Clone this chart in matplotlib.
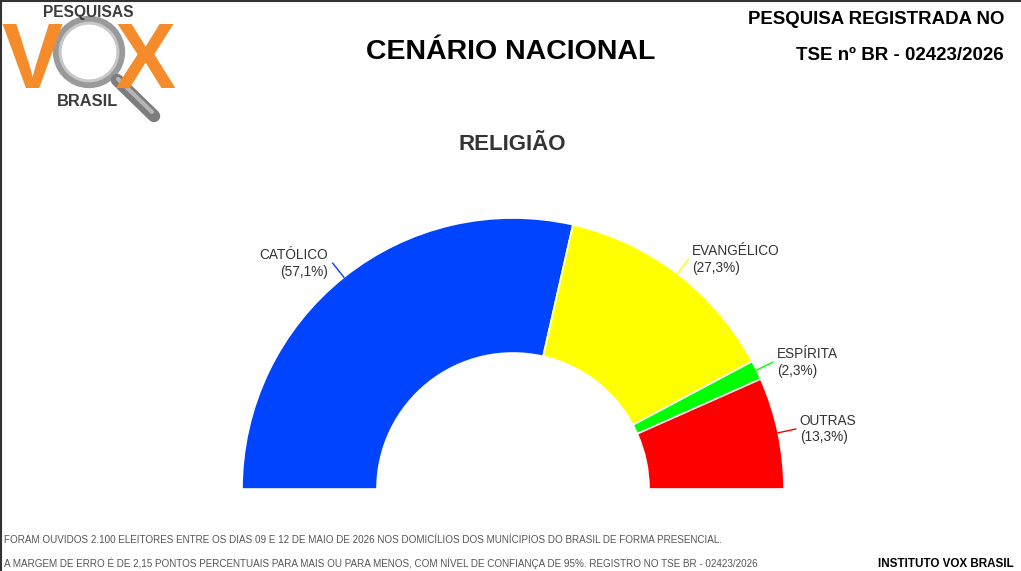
import matplotlib
matplotlib.use("Agg")
import numpy as np
import matplotlib.pyplot as plt
from matplotlib.patches import Circle

# === Dados ===
categorias = ["CATÓLICO", "EVANGÉLICO", "ESPÍRITA", "OUTRAS"]
valores = [57.1, 27.3, 2.3, 13.3]
cores = ["#0044FF", "#FFFF00", "#00FF00", "#FF0000"]

titulo = "CENÁRIO NACIONAL"
subtitulo = "RELIGIÃO"
registro = ["PESQUISA REGISTRADA NO", "TSE nº BR - 02423/2026"]
rodape = [
    "FORAM OUVIDOS 2.100 ELEITORES ENTRE OS DIAS 09 E 12 DE MAIO DE 2026 NOS DOMICÍLIOS DOS MUNÍCIPIOS DO BRASIL DE FORMA PRESENCIAL.",
    "A MARGEM DE ERRO É DE 2,15 PONTOS PERCENTUAIS PARA MAIS OU PARA MENOS, COM NÍVEL DE CONFIANÇA DE 95%. REGISTRO NO TSE BR - 02423/2026",
]

plt.rcParams['font.family'] = ['Liberation Sans', 'DejaVu Sans']

# === Figura em coordenadas de pixel ===
fig = plt.figure(figsize=(10.21, 5.71), dpi=100)
ax = fig.add_axes([0, 0, 1, 1])

cx, cy = 513, 489
raio = 271
largura = 135

wedges, _ = ax.pie(valores + [sum(valores)], startangle=180, counterclock=True,
                   center=(cx, cy), radius=raio, colors=cores + ['none'],
                   wedgeprops=dict(width=largura, edgecolor='white', linewidth=1.2))
wedges[-1].set_visible(False)

ax.set_xlim(0, 1021)
ax.set_ylim(571, 0)
ax.set_aspect('auto')
ax.axis('off')

# --- rótulos com conectores ---
for w, nome, v, cor in zip(wedges[:-1], categorias, valores, cores):
    ang = np.deg2rad((w.theta1 + w.theta2) / 2)
    c, s = np.cos(ang), np.sin(ang)
    x0, y0 = cx + raio * c, cy + raio * s
    x1, y1 = cx + (raio + 18) * c, cy + (raio + 18) * s
    ax.plot([x0, x1], [y0, y1], color=cor, lw=1)
    pct = f"({v:.1f}%)".replace('.', ',')
    if c >= 0:
        ax.text(x1 + 4, y1, f"{nome}\n{pct}", ha='left', va='center',
                fontsize=9.8, color='#333333', linespacing=1.25)
    else:
        ax.text(x1 - 5, y1, f"{nome}\n{pct}", ha='right', va='center',
                fontsize=9.8, color='#333333', linespacing=1.25)

# --- títulos ---
ax.text(511, 52, titulo, ha='center', va='center', fontsize=20.5,
        fontweight='bold', color='black')
ax.text(512, 145, subtitulo, ha='center', va='center', fontsize=16,
        fontweight='bold', color='#333333')
ax.text(1004, 20, registro[0], ha='right', va='center', fontsize=13.4,
        fontweight='bold', color='black')
ax.text(1004, 56, registro[1], ha='right', va='center', fontsize=13.5,
        fontweight='bold', color='black')

# --- rodapé ---
ax.text(4, 540, rodape[0], ha='left', va='center', fontsize=7.1, color='#555555')
ax.text(4, 563, rodape[1], ha='left', va='center', fontsize=7.1, color='#555555')
ax.text(1014, 564, "INSTITUTO VOX BRASIL", ha='right', va='center', fontsize=8.4,
        fontweight='bold', color='black')

# --- logo ---
laranja = '#F68B2C'
ax.text(32, 64, "V", ha='center', va='center', fontsize=66, fontweight='bold',
        color=laranja)
ax.text(145, 64, "X", ha='center', va='center', fontsize=66, fontweight='bold',
        color=laranja)
ax.add_patch(Circle((89, 52), 32, facecolor='white', edgecolor='#9a9a9a', lw=6))
ax.add_patch(Circle((89, 52), 29, facecolor='none', edgecolor='#c8c8c8', lw=2))
ax.plot([117, 154], [80, 116], color='#7d7d7d', lw=9, solid_capstyle='round')
ax.plot([118, 152], [79, 112], color='#b5b5b5', lw=3, solid_capstyle='round')
ax.text(88, 12, "PESQUISAS", ha='center', va='center', fontsize=11.2,
        fontweight='bold', color='#3c3c3c')
ax.text(87, 102, "BRASIL", ha='center', va='center', fontsize=11.8,
        fontweight='bold', color='#3c3c3c')

# --- moldura ---
ax.plot([0, 1021], [1, 1], color='#333333', lw=1.5)
ax.plot([0.5, 0.5], [0, 571], color='#333333', lw=1.5)

fig.savefig("out.png", dpi=100)
